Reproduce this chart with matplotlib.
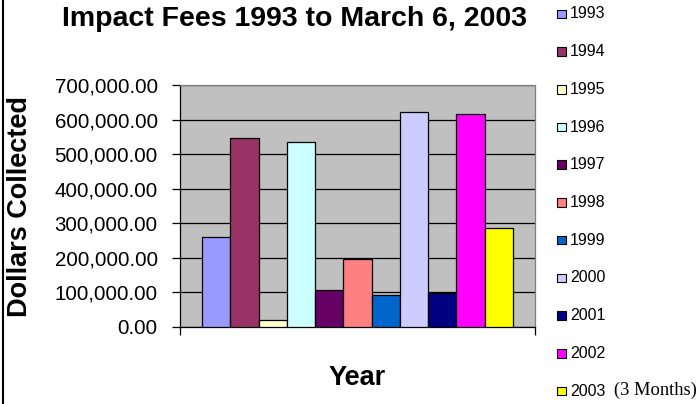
import matplotlib
matplotlib.use("Agg")
import matplotlib.pyplot as plt
from matplotlib.patches import Rectangle
from matplotlib.lines import Line2D
from matplotlib.ticker import FuncFormatter, MultipleLocator

years = ["1993", "1994", "1995", "1996", "1997", "1998", "1999", "2000", "2001", "2002", "2003"]
legend_labels = ["1993", "1994", "1995", "1996", "1997", "1998", "1999", "2000", "2001", "2002", "2003"]
values = [259000, 548000, 19000, 535000, 107000, 197000, 92000, 622000, 98000, 615000, 286000]
colors = ["#9999FF", "#993366", "#FFFFCC", "#CCFFFF", "#660066", "#FF8080",
          "#0066CC", "#CCCCFF", "#000080", "#FF00FF", "#FFFF00"]
title = "Impact Fees 1993 to March 6, 2003"
ylabel = "Dollars Collected"
xlabel = "Year"
last_suffix = "(3 Months)"

W, H = 697, 404
fig = plt.figure(figsize=(W / 100, H / 100), dpi=100)
fig.patch.set_facecolor("white")

L, R, T, B = 180, 535, 85, 327
ax = fig.add_axes([L / W, 1 - B / H, (R - L) / W, (B - T) / H])
ax.set_facecolor("#C0C0C0")

pos = list(range(len(values)))
ax.bar(pos, values, width=1.0, align="edge", color=colors, edgecolor="black", linewidth=0.9, zorder=3)

ax.set_xlim(-0.78, len(values) + 0.78)
ax.set_ylim(0, 700000)
ax.yaxis.set_major_locator(MultipleLocator(100000))
ax.yaxis.set_major_formatter(FuncFormatter(lambda v, p: f"{v:,.2f}"))
ax.grid(axis="y", color="black", linewidth=0.9, zorder=1)
ax.set_axisbelow(True)

ax.set_xticks([-0.78, len(values) + 0.78])
ax.set_xticklabels([])
ax.tick_params(axis="x", direction="out", length=6, width=0.9, color="black")
ax.tick_params(axis="y", direction="out", length=6, width=0.9, color="black", pad=10,
               labelsize=14.8)
for lab in ax.get_yticklabels():
    lab.set_fontfamily("Liberation Sans")

for s in ["top", "right"]:
    ax.spines[s].set_color("#808080")
    ax.spines[s].set_linewidth(0.9)
for s in ["left", "bottom"]:
    ax.spines[s].set_color("black")
    ax.spines[s].set_linewidth(0.9)

ax.set_ylabel(ylabel, fontsize=19.5, fontweight="bold", family="Liberation Sans",
              va="center", ha="center")
ax.yaxis.set_label_coords((20 - L) / (R - L), (B - 206.5) / (B - T))

fig.text(294.5 / W, 1 - 19.5 / H, title, fontsize=20.5, fontweight="bold",
         family="Liberation Sans", ha="center", va="center")
fig.text(357.5 / W, 1 - 378 / H, xlabel, fontsize=19.5, fontweight="bold",
         family="Liberation Sans", ha="center", va="center")

# legend
y0, step = 14.0, 37.7
for i, (lab, c) in enumerate(zip(legend_labels, colors)):
    yc = y0 + i * step
    fig.patches.append(Rectangle(((557.0) / W, 1 - (yc + 4.2) / H), 8.5 / W, 8.5 / H,
                                 transform=fig.transFigure, facecolor=c,
                                 edgecolor="black", linewidth=0.8))
    fig.text(570 / W, 1 - yc / H, lab, fontsize=11.5, family="Liberation Sans",
             ha="left", va="center")
    if i == len(legend_labels) - 1:
        fig.text(697 / W, 1 - (yc - 0.5) / H, last_suffix, fontsize=13.3, family="Liberation Serif",
                 ha="right", va="center")

fig.lines.append(Line2D([3.5 / W, 3.5 / W], [0, 1], transform=fig.transFigure,
                        color="black", linewidth=1.5))

fig.savefig("out.png", dpi=100)
